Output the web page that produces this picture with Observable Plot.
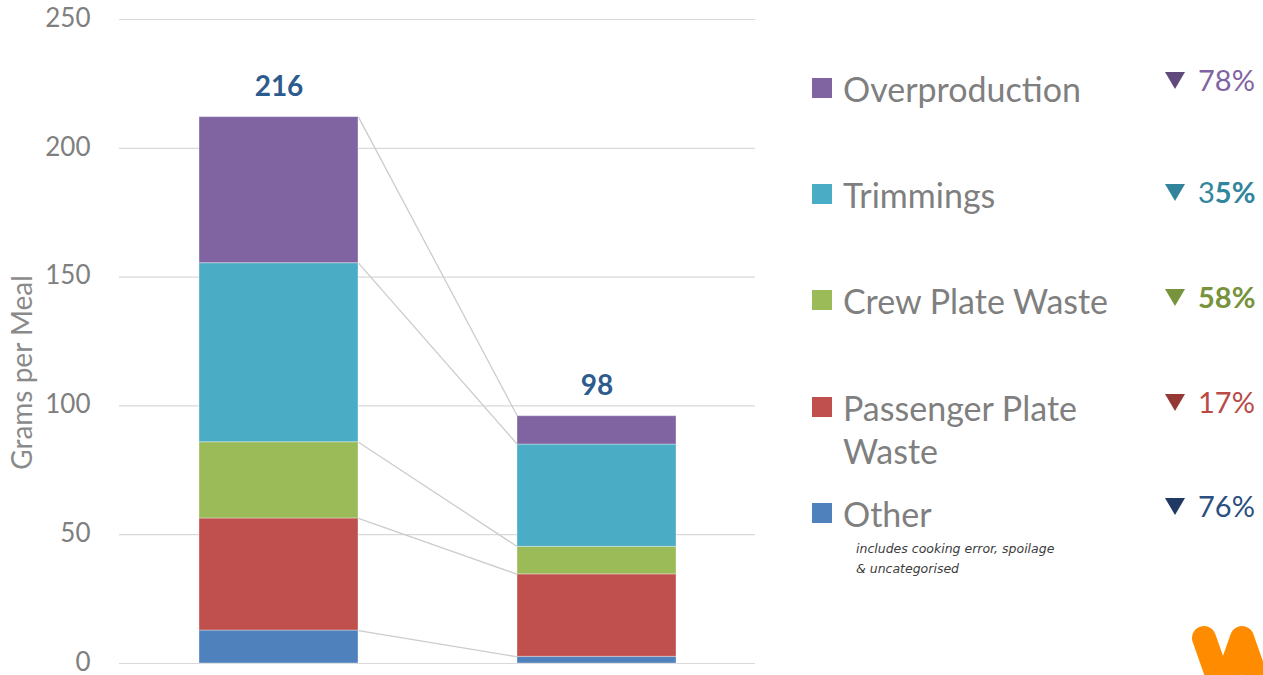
<!DOCTYPE html>
<html>
<head>
<meta charset="utf-8">
<script src="https://cdn.jsdelivr.net/npm/d3@7"></script>
<script src="https://cdn.jsdelivr.net/npm/@observablehq/plot@0.6"></script>
<style>
  body { margin: 0; background: #fff; font-family: Lato, "Open Sans", sans-serif; }
  #wrap { position: relative; width: 1263px; height: 675px; overflow: hidden; }
  #chart { position: absolute; left: 0; top: 0; }
  #chart svg { overflow: visible; }
  .row { position: absolute; left: 812px; display: flex; align-items: flex-start; }
  .sq { width: 20px; height: 20px; margin-right: 11px; flex: none; }
  .lab { font-size: 34px; line-height: 43px; color: #7f7f7f; width: 300px; }
  .pct { position: absolute; left: 1165px; display: flex; align-items: center; font-size: 29px; line-height: 30px; }
  .tri { margin-right: 13px; flex: none; }
  .note { position: absolute; left: 856px; top: 539px; font-family: "DejaVu Sans", sans-serif; font-size: 12.5px; line-height: 20px; font-style: italic; color: #3c3c3c; }
  #logo { position: absolute; left: 0; top: 0; }
</style>
</head>
<body>
<div id="wrap">
  <div id="chart"></div>
  <div id="legend"></div>
  <svg id="logo" width="1263" height="675"><polyline points="1204,638 1223,692 1242,638 1261,692" fill="none" stroke="#ff8c00" stroke-width="24" stroke-linecap="round" stroke-linejoin="round"/></svg>
</div>
<script>
// ---- data ----
const periods = ["Before", "After"];
const categories = ["Other", "Passenger Plate Waste", "Crew Plate Waste", "Trimmings", "Overproduction"];
const beforeValues = [12.8, 43.5, 29.6, 69.5, 56.7];
const afterValues = [2.6, 32.0, 10.7, 39.7, 11.0];
const totalLabels = ["216", "98"];
const reductions = ["76%", "17%", "58%", "35%", "78%"];
const seriesColors = ["#4f81bd", "#c0504d", "#9bbb59", "#4bacc6", "#8064a2"];
const yTicks = [0, 50, 100, 150, 200, 250];
const yLabel = "Grams per Meal";
const otherNote = ["includes cooking error, spoilage", "& uncategorised"];

// ---- build tables ----
const seriesByPeriod = [beforeValues, afterValues];
const rows = [];
periods.forEach((p, pi) => categories.forEach((c, ci) => rows.push({period: p, category: c, value: seriesByPeriod[pi][ci]})));
const totals = periods.map((p, pi) => ({period: p, total: d3.sum(seriesByPeriod[pi]), label: totalLabels[pi]}));
const links = categories.map((c, ci) => ({
  category: c,
  y1: d3.sum(beforeValues.slice(0, ci + 1)),
  y2: d3.sum(afterValues.slice(0, ci + 1))
}));

const W = 1263, H = 675, mL = 119, mR = 508, mT = 19, mB = 12;
const xOpts = {domain: periods, paddingInner: 0.5, paddingOuter: 0.25, round: true};
const bw = Plot.scale({x: {type: "band", ...xOpts, range: [mL, W - mR]}}).bandwidth;

// link curve: start at right edge of first bar, end at left edge of second bar
const edgeCurve = (context) => {
  let i = 0;
  return {
    areaStart() {}, areaEnd() {},
    lineStart() { i = 0; },
    lineEnd() {},
    point(x, y) {
      if (i++ === 0) context.moveTo(x + bw / 2, y);
      else context.lineTo(x - bw / 2, y);
    }
  };
};

const chart = Plot.plot({
  width: W, height: H,
  marginLeft: mL, marginRight: mR, marginTop: mT, marginBottom: mB,
  style: {fontFamily: "Lato, 'Open Sans', sans-serif", background: "transparent"},
  x: {...xOpts, axis: null},
  y: {domain: [0, 250]},
  color: {domain: categories, range: seriesColors},
  marks: [
    Plot.gridY(yTicks, {stroke: "#d9d9d9", strokeOpacity: 1, strokeWidth: 1.2}),
    Plot.axisY(yTicks, {tickSize: 0, tickPadding: 29, fontSize: 26, color: "#7f7f7f", label: null, dy: -1}),
    Plot.text([yLabel], {frameAnchor: "left", textAnchor: "middle", dx: -96, dy: 31, rotate: -90, fontSize: 28, fill: "#8a8a8a"}),
    Plot.link(links, {x1: () => periods[0], x2: () => periods[1], y1: "y1", y2: "y2",
      stroke: "#cccccc", strokeWidth: 1.3, curve: edgeCurve}),
    Plot.barY(rows, {x: "period", y: "value", fill: "category", stroke: "#ffffff", strokeOpacity: 0.35, strokeWidth: 1}),
    Plot.text(totals, {x: "period", y: "total", text: "label", dy: -30, fontSize: 28, fontWeight: "bold", fill: "#2d5b8e"})
  ]
});
document.getElementById("chart").appendChild(chart);

// ---- legend (HTML, top = Overproduction) ----
const legend = document.getElementById("legend");
const labelCenters = [88, 194, 300, 407, 513];
const pctCenters = [80, 192, 297, 402, 506];
const pctText = ["#8064a2", "#31859c", "#77933c", "#b94a48", "#2b4f7e"];
const triColor = ["#604a7b", "#31849b", "#77933c", "#953735", "#1f3864"];
const svgNS = "http://www.w3.org/2000/svg";
const order = categories.map((c, i) => i).reverse();
order.forEach((ci, k) => {
  const row = document.createElement("div");
  row.className = "row";
  row.style.top = (labelCenters[k] - 21.5) + "px";
  const sq = document.createElement("div");
  sq.className = "sq";
  sq.style.background = seriesColors[ci];
  sq.style.marginTop = "11px";
  const lab = document.createElement("div");
  lab.className = "lab";
  lab.textContent = categories[ci];
  row.appendChild(sq); row.appendChild(lab);
  legend.appendChild(row);

  const pct = document.createElement("div");
  pct.className = "pct";
  pct.style.top = (pctCenters[k] - 15) + "px";
  pct.style.color = pctText[k];
  const tri = document.createElementNS(svgNS, "svg");
  tri.setAttribute("class", "tri");
  tri.setAttribute("width", "20");
  tri.setAttribute("height", "17");
  const poly = document.createElementNS(svgNS, "polygon");
  poly.setAttribute("points", "0,0 20,0 10,17");
  poly.setAttribute("fill", triColor[k]);
  tri.appendChild(poly);
  const val = document.createElement("span");
  const txt = reductions[ci];
  if (categories[ci] === "Trimmings") {
    val.innerHTML = txt.slice(0, 1) + "<b>" + txt.slice(1) + "</b>";
  } else {
    val.textContent = txt;
    if (categories[ci] === "Crew Plate Waste") val.style.fontWeight = "bold";
  }
  pct.appendChild(tri); pct.appendChild(val);
  legend.appendChild(pct);
});
const note = document.createElement("div");
note.className = "note";
note.innerHTML = otherNote.join("<br>");
legend.appendChild(note);
</script>
</body>
</html>
